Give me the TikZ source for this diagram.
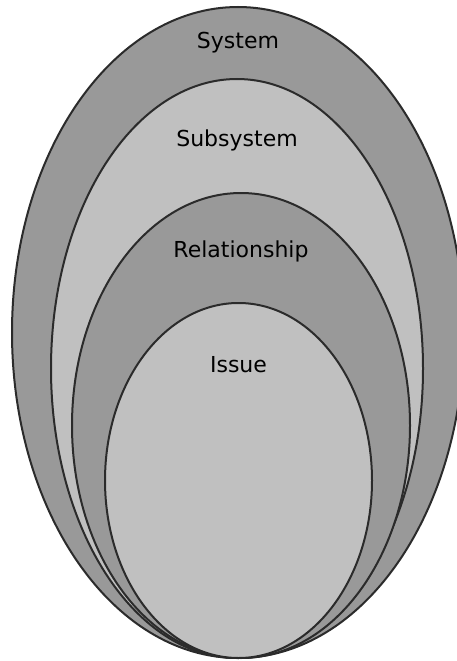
\documentclass[tikz,border=0pt]{standalone}
\usepackage{fontspec}
\setmainfont{DejaVu Sans}
\definecolor{RingDark}{HTML}{999999}
\definecolor{RingLight}{HTML}{C0C0C0}
\definecolor{RingEdge}{HTML}{2B2B2B}
\usetikzlibrary{
  positioning,
  shapes.geometric
}

\begin{document}
\begin{tikzpicture}[
  x=1pt, y=-1pt,
  ring/.style={
    ellipse, draw=RingEdge, line width=2pt,
    inner sep=0pt, outer sep=0pt
  },
  ringlbl/.style={
    font=\fontsize{22}{26}\selectfont, text=black,
    inner sep=0pt
  }
]
  \clip (0,0) rectangle (457,661);
  \fill[white] (0,0) rectangle (457,661);

  % Nested rings (outer first)
  \node[ring, fill=RingDark, minimum width=452pt, minimum height=651pt]
    (system) at (238,332.5) {};
  \node[ring, fill=RingLight, minimum width=372pt, minimum height=579pt]
    (subsystem) at (237,368.5) {};
  \node[ring, fill=RingDark, minimum width=338pt, minimum height=465pt]
    (relation) at (241,425.5) {};
  \node[ring, fill=RingLight, minimum width=267pt, minimum height=355pt]
    (issue) at (238.5,480.5) {};

  % Labels
  \node[ringlbl] (systemlbl) at ([yshift=-36pt]system.north) {System};
  \node[ringlbl] (subsystemlbl) at ([yshift=-61pt]subsystem.north) {Subsystem};
  \node[ringlbl] (relationlbl) at ([yshift=-58pt]relation.north) {Relationship};
  \node[ringlbl] (issuelbl) at ([yshift=-62pt]issue.north) {Issue};
\end{tikzpicture}
\end{document}
